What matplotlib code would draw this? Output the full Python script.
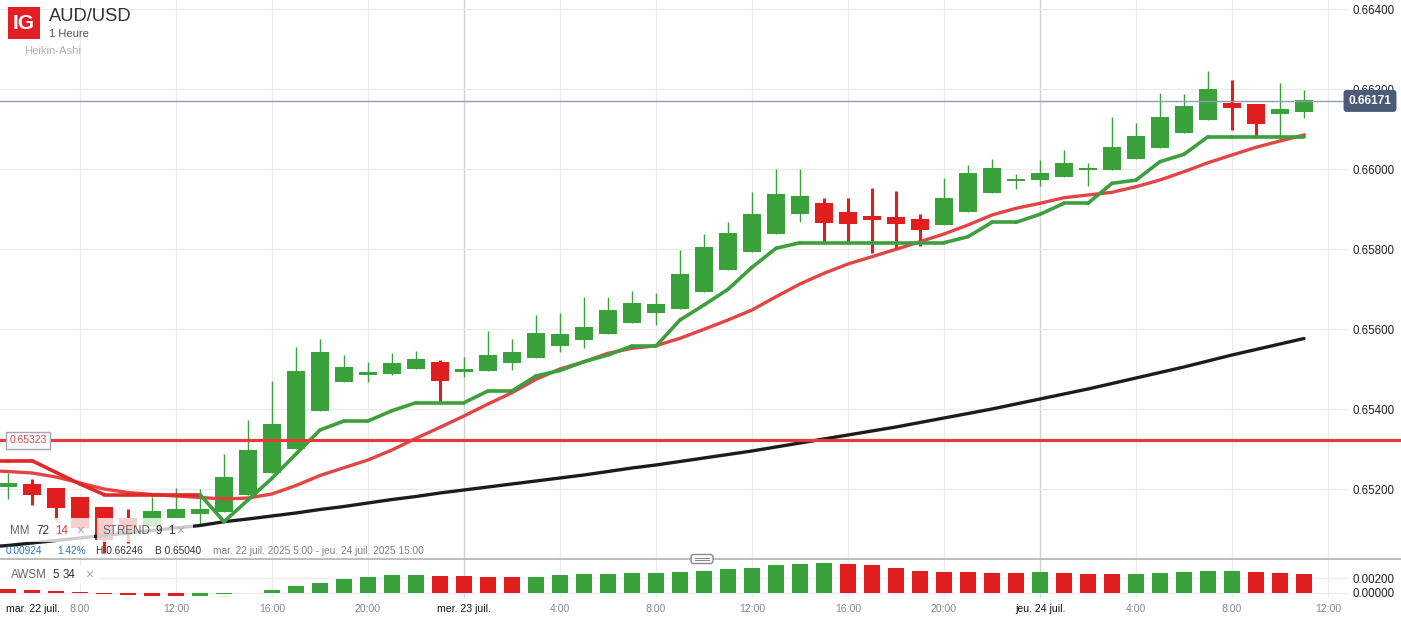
import matplotlib
matplotlib.use('Agg')
import matplotlib.pyplot as plt
from matplotlib.patches import Rectangle, FancyBboxPatch
from matplotlib.lines import Line2D
from matplotlib.collections import LineCollection
from matplotlib.transforms import Affine2D, blended_transform_factory
import numpy as np

plt.rcParams['font.family'] = ['Liberation Sans', 'DejaVu Sans']

# ---------------- data (hourly Heikin-Ashi, 22 juil. 5:00 -> 24 juil. 11:00) ----------------
ha_open = [0.652065, 0.652133, 0.652033, 0.651815, 0.651550, 0.651275, 0.651065, 0.651275, 0.651390, 0.651440,
           0.651865, 0.652415, 0.653015, 0.653965, 0.654690, 0.654865, 0.654890, 0.655015, 0.655183, 0.654940,
           0.654965, 0.655165, 0.655290, 0.655590, 0.655740, 0.655890, 0.656165, 0.656415, 0.656515, 0.656940,
           0.657490, 0.657940, 0.658390, 0.658890, 0.659158, 0.658933, 0.658833, 0.658808, 0.658758, 0.658615,
           0.658940, 0.659415, 0.659715, 0.659740, 0.659815, 0.659990, 0.659990, 0.660265, 0.660540, 0.660915,
           0.661240, 0.661658, 0.661633, 0.661390, 0.661440]
ha_high = [0.652400, 0.652258, 0.652033, 0.651815, 0.651550, 0.651500, 0.651815, 0.652045, 0.652008, 0.652883,
           0.653733, 0.654708, 0.655565, 0.655758, 0.655358, 0.655183, 0.655408, 0.655458, 0.655233, 0.655308,
           0.655958, 0.655758, 0.656358, 0.656408, 0.656808, 0.656808, 0.656958, 0.656908, 0.657983, 0.658383,
           0.658683, 0.659433, 0.660008, 0.660008, 0.659283, 0.659283, 0.659533, 0.659458, 0.658883, 0.659783,
           0.660108, 0.660258, 0.659883, 0.660233, 0.660483, 0.660158, 0.661308, 0.661158, 0.661908, 0.661883,
           0.662460, 0.662233, 0.661633, 0.662158, 0.661983]
ha_low = [0.651750, 0.651608, 0.651233, 0.650983, 0.650400, 0.650650, 0.651065, 0.651275, 0.651083, 0.651440,
          0.651865, 0.652415, 0.653015, 0.653965, 0.654690, 0.654675, 0.654865, 0.655015, 0.654215, 0.654815,
          0.654965, 0.654990, 0.655290, 0.655440, 0.655540, 0.655890, 0.656165, 0.656115, 0.656515, 0.656940,
          0.657490, 0.657940, 0.658390, 0.658690, 0.658190, 0.658190, 0.657915, 0.658015, 0.658090, 0.658615,
          0.658940, 0.659415, 0.659515, 0.659590, 0.659815, 0.659590, 0.659990, 0.660265, 0.660540, 0.660915,
          0.661240, 0.660990, 0.660815, 0.660765, 0.661290]
ha_close = [0.652150, 0.651865, 0.651540, 0.651033, 0.650733, 0.650900, 0.651465, 0.651500, 0.651508, 0.652315,
            0.652983, 0.653633, 0.654958, 0.655433, 0.655058, 0.654933, 0.655158, 0.655258, 0.654715, 0.655008,
            0.655358, 0.655433, 0.655908, 0.655883, 0.656058, 0.656483, 0.656658, 0.656633, 0.657383, 0.658058,
            0.658408, 0.658883, 0.659383, 0.659333, 0.658665, 0.658640, 0.658740, 0.658640, 0.658490, 0.659283,
            0.659908, 0.660033, 0.659765, 0.659908, 0.660158, 0.660015, 0.660558, 0.660833, 0.661308, 0.661583,
            0.662008, 0.661540, 0.661140, 0.661508, 0.661733]

# indicator lines start one hour earlier (4:00), just off the left edge
mm14 = [0.652470,
        0.652445, 0.652408, 0.652308, 0.652158, 0.652008, 0.651920, 0.651870, 0.651833, 0.651795, 0.651758,
        0.651783, 0.651883, 0.652095, 0.652345, 0.652540, 0.652733, 0.652983, 0.653275, 0.653550, 0.653833,
        0.654133, 0.654415, 0.654750, 0.655008, 0.655190, 0.655400, 0.655525, 0.655590, 0.655775, 0.656000,
        0.656233, 0.656483, 0.656815, 0.657133, 0.657400, 0.657633, 0.657815, 0.658000, 0.658190, 0.658383,
        0.658608, 0.658858, 0.659025, 0.659150, 0.659290, 0.659358, 0.659425, 0.659565, 0.659733, 0.659940,
        0.660165, 0.660358, 0.660550, 0.660708, 0.660858]
mm72 = [0.650553,
        0.650595, 0.650658, 0.650720, 0.650783, 0.650845, 0.650908, 0.650970, 0.651033, 0.651095, 0.651190,
        0.651258, 0.651333, 0.651408, 0.651495, 0.651570, 0.651658, 0.651745, 0.651820, 0.651908, 0.651983,
        0.652058, 0.652133, 0.652208, 0.652283, 0.652358, 0.652445, 0.652533, 0.652608, 0.652695, 0.652783,
        0.652870, 0.652958, 0.653058, 0.653158, 0.653258, 0.653358, 0.653458, 0.653558, 0.653670, 0.653783,
        0.653895, 0.654008, 0.654133, 0.654258, 0.654383, 0.654508, 0.654645, 0.654783, 0.654920, 0.655058,
        0.655208, 0.655358, 0.655495, 0.655633, 0.655770]
strend = [0.652715,
          0.652715, 0.652715, 0.652423, 0.652133, 0.651870, 0.651870, 0.651870, 0.651870, 0.651870, 0.651190,
          0.651733, 0.652275, 0.652883, 0.653483, 0.653708, 0.653708, 0.653965, 0.654165, 0.654165, 0.654165,
          0.654458, 0.654458, 0.654833, 0.654970, 0.655190, 0.655358, 0.655583, 0.655583, 0.656233, 0.656608,
          0.657000, 0.657550, 0.658025, 0.658165, 0.658165, 0.658165, 0.658165, 0.658165, 0.658165, 0.658165,
          0.658315, 0.658675, 0.658675, 0.658875, 0.659150, 0.659150, 0.659650, 0.659730, 0.660190, 0.660375,
          0.660815, 0.660815, 0.660815, 0.660815, 0.660815]
strend_dir = [-1] * 10 + [1] * 46

awsm = [0.00055, 0.00040, 0.00025, 0.00010, -0.00020, -0.00030, -0.00040, -0.00045, -0.00040, -0.00020,
        0.00001, 0.00035, 0.00088, 0.00140, 0.00186, 0.00218, 0.00246, 0.00250, 0.00236, 0.00228,
        0.00226, 0.00222, 0.00226, 0.00246, 0.00260, 0.00264, 0.00274, 0.00278, 0.00292, 0.00306,
        0.00325, 0.00347, 0.00385, 0.00400, 0.00409, 0.00400, 0.00381, 0.00344, 0.00307, 0.00288,
        0.00284, 0.00279, 0.00274, 0.00284, 0.00274, 0.00265, 0.00260, 0.00265, 0.00274, 0.00284,
        0.00302, 0.00305, 0.00288, 0.00274, 0.00265]

price_ticks = [0.652, 0.654, 0.656, 0.658, 0.660, 0.662, 0.664]
price_tick_labels = ['0.65200', '0.65400', '0.65600', '0.65800', '0.66000', '0.66200', '0.66400']
awsm_ticks = [0.0, 0.002]
awsm_tick_labels = ['0.00000', '0.00200']
time_tick_pos = [3, 7, 11, 15, 19, 23, 27, 31, 35, 39, 43, 47, 51, 55]
time_tick_labels = ['8:00', '12:00', '16:00', '20:00', 'mer. 23 juil.', '4:00', '8:00', '12:00',
                    '16:00', '20:00', 'jeu. 24 juil.', '4:00', '8:00', '12:00']
first_day_label = 'mar. 22 juil.'
level_line = 0.65323
last_price = 0.66171

# ---------------- figure ----------------
GREEN = '#3AA23A'
RED = '#E01E1E'
W, H = 1401, 618
fig = plt.figure(figsize=(W / 100, H / 100), dpi=100)
fig.patch.set_facecolor('white')
pix = Affine2D().scale(1 / W, -1 / H).translate(0, 1) + fig.transFigure

AX_R = 1348
ax = fig.add_axes([0, 1 - 558 / H, AX_R / W, 558 / H])
ax2 = fig.add_axes([0, 1 - 598 / H, AX_R / W, 38 / H])
n = len(ha_open)
idx = np.arange(n)
line_idx = np.arange(-1, n)

for a in (ax, ax2):
    a.set_xlim(-8 / 24, (AX_R - 8) / 24)
    for s in a.spines.values():
        s.set_visible(False)
    a.set_facecolor('none')
    a.tick_params(length=0)
    a.yaxis.tick_right()
    a.set_axisbelow(True)
    for p, lab in zip(time_tick_pos, time_tick_labels):
        day = 'juil' in lab
        a.axvline(p, color='#d2d2d2' if day else '#ececec', lw=1, zorder=0.5)

ax.set_ylim(0.6502825, 0.6642325)
ax.set_yticks(price_ticks)
ax.set_yticklabels(price_tick_labels, fontsize=8.3, color='#222222')
ax.tick_params(axis='y', pad=3)
ax.set_xticks([])
ax.grid(axis='y', color='#ececec', lw=1)

ax2.set_ylim(-(598 - 592.8) / 7200, (592.8 - 560) / 7200)
ax2.set_yticks(awsm_ticks)
ax2.set_yticklabels(awsm_tick_labels, fontsize=8.3, color='#222222')
ax2.tick_params(axis='y', pad=3)
ax2.grid(axis='y', color='#ececec', lw=1)
ax2.set_xticks(time_tick_pos)
ax2.set_xticklabels(time_tick_labels, fontsize=7.6)
ax2.tick_params(axis='x', pad=4.2)
for t in ax2.get_xticklabels():
    t.set_color('#111111' if 'juil' in t.get_text() else '#888888')

# candles
o = np.array(ha_open); c = np.array(ha_close)
hi = np.array(ha_high); lo = np.array(ha_low)
up = c >= o
cols = [GREEN if u else RED for u in up]
bottoms = np.minimum(o, c)
heights = np.maximum(np.abs(c - o), 0.00005)
ax.vlines(idx, lo, hi, colors=cols, linewidths=[1.0 if u else 2.2 for u in up], zorder=2)
ax.bar(idx, heights, bottom=bottoms, width=0.75, color=cols, zorder=2.1, linewidth=0)

# indicator lines
ax.plot(line_idx, mm72, color='#1c1c1c', lw=2.4, zorder=3, solid_capstyle='round', solid_joinstyle='round')
ax.plot(line_idx, mm14, color='#E23B3B', lw=2.4, zorder=3.1, alpha=0.95, solid_joinstyle='round')
m = len(strend)
segs = [[(line_idx[i], strend[i]), (line_idx[i + 1], strend[i + 1])] for i in range(m - 1)]
seg_cols = ['#3E9F3E' if strend_dir[i + 1] > 0 else '#E02828' for i in range(m - 1)]
lc = LineCollection(segs, colors=seg_cols, linewidths=2.6, zorder=3.2, capstyle='round', joinstyle='round')
ax.add_collection(lc)

ax.axhline(level_line, xmin=0, xmax=W / AX_R, color='#E23B3B', lw=2.3, zorder=3.5, clip_on=False)
ax.axhline(last_price, xmin=0, xmax=1.0, color='#8e9bb0', lw=1, zorder=2.5)

bt = blended_transform_factory(ax.transAxes, ax.transData)
ax.text(1370 / AX_R, last_price, f'{last_price:.5f}', transform=bt, ha='center', va='center',
        color='white', fontsize=8.6, fontweight='bold', clip_on=False, zorder=10,
        bbox=dict(boxstyle='round,pad=0.42,rounding_size=0.25', fc='#4A5A77', ec='none'))
ax.text(28 / AX_R, level_line, f'{level_line:.5f}', transform=bt, ha='center', va='center',
        color='#E04444', fontsize=7.4, clip_on=False, zorder=10,
        bbox=dict(boxstyle='square,pad=0.35', fc='white', ec='#a4a4b4', lw=1))

# awesome oscillator
aw = np.array(awsm)
aw_cols = [RED] + [GREEN if aw[i] > aw[i - 1] else RED for i in range(1, n)]
ax2.bar(idx, aw, width=0.7, color=aw_cols, zorder=2, linewidth=0)

# ---------------- overlay (pixel coords) ----------------
def add_rect(x, y, w, h, **kw):
    r = Rectangle((x, y), w, h, transform=pix, **kw)
    fig.add_artist(r)

def ptext(x, y, s, **kw):
    kw.setdefault('va', 'center')
    fig.text(x, y, s, transform=pix, **kw)

# header
add_rect(8, 7, 32, 32, fc='#E21E26', ec='none', zorder=20)
ptext(24, 23.5, 'IG', ha='center', color='white', fontsize=15, fontweight='bold', zorder=21)
ptext(49, 16.5, 'AUD/USD', ha='left', color='#333333', fontsize=13.2, zorder=21)
ptext(49, 34, '1 Heure', ha='left', color='#555555', fontsize=8.0, zorder=21)
ptext(24, 51, 'Heikin-Ashi', ha='left', color='#b0b0b8', fontsize=8.1, zorder=21)

# legend boxes (semi-transparent)
add_rect(0, 518, 94, 24, fc='white', alpha=0.78, ec='none', zorder=15)
add_rect(97, 518, 96, 24, fc='white', alpha=0.78, ec='none', zorder=15)
ptext(10, 531, 'MM', ha='left', color='#666666', fontsize=8.4, zorder=21)
ptext(36, 531, '72', ha='left', color='#333333', fontsize=8.4, zorder=21)
ptext(55.5, 531, '14', ha='left', color='#E23B3B', fontsize=8.4, zorder=21)
ptext(76, 530.5, '×', ha='left', color='#aaaaaa', fontsize=10, zorder=21)
ptext(102.5, 531, 'STREND', ha='left', color='#666666', fontsize=8.4, zorder=21)
ptext(155, 531, '9', ha='left', color='#333333', fontsize=8.4, zorder=21)
ptext(168, 531, '1', ha='left', color='#333333', fontsize=8.4, zorder=21)
ptext(176, 530.5, '×', ha='left', color='#aaaaaa', fontsize=10, zorder=21)

# info row
ptext(6, 551, '0.00924', ha='left', color='#2A78CC', fontsize=7.3, zorder=21)
ptext(57, 551, '1.42%', ha='left', color='#2A78CC', fontsize=7.3, zorder=21)
ptext(96, 551, 'H 0.66246', ha='left', color='#333333', fontsize=7.3, zorder=21)
ptext(155, 551, 'B 0.65040', ha='left', color='#333333', fontsize=7.3, zorder=21)
ptext(213, 551, 'mar. 22 juil. 2025 5:00 - jeu. 24 juil. 2025 15:00', ha='left',
      color='#808080', fontsize=7.3, zorder=21)

# panel separator and handle
fig.add_artist(Line2D([0, W], [559, 559], transform=pix, color='#b2b2b2', lw=1.2, zorder=16))
fig.add_artist(FancyBboxPatch((691, 554.5), 22, 9, boxstyle='round,pad=0,rounding_size=2.5',
                              transform=pix, fc='white', ec='#8a8a8a', lw=1, zorder=17))
fig.add_artist(Line2D([695, 709], [557.7, 557.7], transform=pix, color='#8a8a8a', lw=0.8, zorder=18))
fig.add_artist(Line2D([695, 709], [560.3, 560.3], transform=pix, color='#8a8a8a', lw=0.8, zorder=18))

# AWSM label
add_rect(0, 566, 100, 18, fc='white', alpha=0.8, ec='none', zorder=15)
ptext(10.5, 575, 'AWSM', ha='left', color='#666666', fontsize=8.4, zorder=21)
ptext(52, 575, '5', ha='left', color='#333333', fontsize=8.4, zorder=21)
ptext(63, 575, '34', ha='left', color='#333333', fontsize=8.4, zorder=21)
ptext(85, 574.5, '×', ha='left', color='#aaaaaa', fontsize=10, zorder=21)

# first day label
ptext(6, 609, first_day_label, ha='left', color='#111111', fontsize=7.6, zorder=21)

fig.savefig('out.png', dpi=100)
